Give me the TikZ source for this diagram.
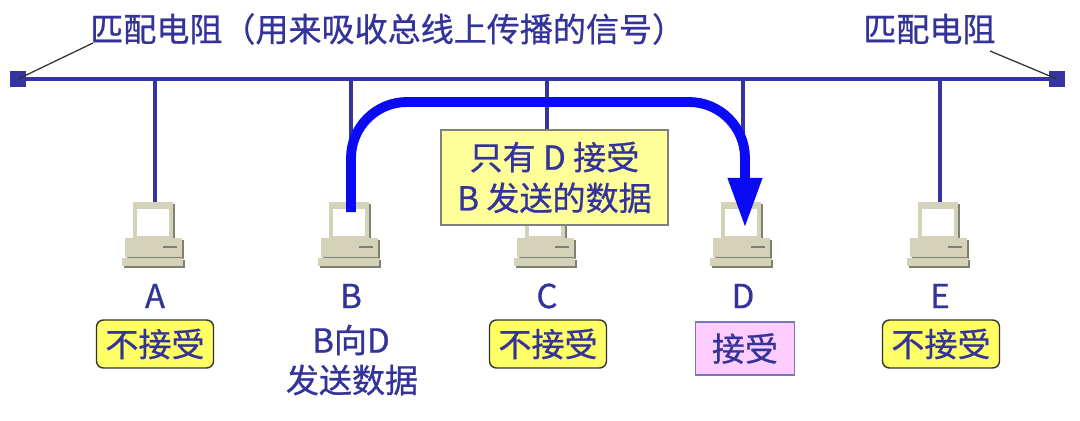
\documentclass[tikz,border=0pt]{standalone}
\usepackage{fontspec}
\setmainfont{Noto Sans CJK SC}[FakeBold=0.7]
\usetikzlibrary{arrows.meta}
\definecolor{tblue}{HTML}{333399}
\definecolor{busblue}{HTML}{3535A0}
\definecolor{flowblue}{HTML}{0A0AF5}
\definecolor{pcbeige}{HTML}{D5D2BA}
\definecolor{pcdark}{HTML}{808072}
\definecolor{noyellow}{HTML}{FFFF66}
\definecolor{infoyellow}{HTML}{FFFF99}
\definecolor{yespink}{HTML}{FFCCFF}
\definecolor{yesedge}{HTML}{7777BB}
\tikzset{
  lbl/.style={text=tblue, font=\fontsize{23.5}{29}\selectfont, inner sep=0pt},
  bus/.style={busblue, line width=3pt},
  drop/.style={busblue, line width=2.2pt},
  term/.style={fill=busblue, draw=none, minimum size=0.4cm, inner sep=0pt},
  leader/.style={draw=black!80, line width=0.9pt},
  nobox/.style={lbl, fill=noyellow, draw=black!80, line width=1pt, rounded corners=5pt,
    minimum width=2.925cm, minimum height=1.2cm},
  yesbox/.style={lbl, fill=yespink, draw=yesedge, line width=1pt,
    minimum width=2.475cm, minimum height=1.325cm},
  infobox/.style={lbl, fill=infoyellow, draw=black!50, line width=1pt, align=center,
    minimum width=5.675cm, minimum height=2.375cm},
  flow/.style={flowblue, line width=7pt, rounded corners=1.4cm,
    -{Triangle[width=0.8cm,length=1.25cm]}},
  pc/.pic={
    \fill[pcdark] (-20,2) rectangle (20,39);
    \fill[pcbeige] (-22,0) rectangle (18,37);
    \fill[white] (-18,7) rectangle (14,34);
    \fill[pcdark] (-28,38) rectangle (29,57);
    \fill[pcbeige] (-30,36) rectangle (27,55);
    \draw[pcdark, line width=2pt] (8,45) -- (22,45);
    \fill[pcdark] (-31,58) rectangle (30,66);
    \fill[pcbeige] (-33,56) rectangle (28,64);
  }
}
\begin{document}
\begin{tikzpicture}[x=0.025cm, y=-0.025cm]
\useasboundingbox[fill=white] (0,0) rectangle (1080,421);

% bus and terminators
\node[term] (tl) at (18,79) {};
\node[term] (tr) at (1057,79) {};
\draw[bus] (tl) -- (tr);

% top labels
\node[lbl, anchor=west] (ltxt) at (90,29) {匹配电阻（用来吸收总线上传播的信号）};
\node[lbl, anchor=west] (rtxt) at (863,29) {匹配电阻};
\coordinate (lend) at (93,43);
\coordinate (rend) at (990,51);
\draw[leader] (tl.center) -- (lend);
\draw[leader] (tr.center) -- (rend);

% drops and computers
\foreach \n/\x in {A/155, B/351, C/547, D/743, E/940}{
  \coordinate (bus\n) at (\x,79);
  \coordinate (pc\n) at (\x,203);
  \draw[drop] (bus\n) -- (pc\n);
  \pic at (\x,202) {pc};
  \node[lbl] (name\n) at (\x,296) {\n};
}

% info box
\node[infobox] (info) at (554.5,177.5) {只有 D 接受\\B 发送的数据};

% state boxes
\node[nobox] (sA) at (155,344) {不接受};
\node[nobox] (sC) at (548,344) {不接受};
\node[yesbox] (sD) at (745,348.5) {接受};
\node[nobox] (sE) at (941,344) {不接受};
\node[lbl] (bl1) at (351,340) {B向D};
\node[lbl] (bl2) at (352,380) {发送数据};

% flow arrow
\coordinate (arrS) at (351,212);
\coordinate (arrTop) at (745,102);
\coordinate (arrE) at (745,228);
\draw[flow] (arrS) |- (arrTop) -- (arrE);
\end{tikzpicture}
\end{document}
